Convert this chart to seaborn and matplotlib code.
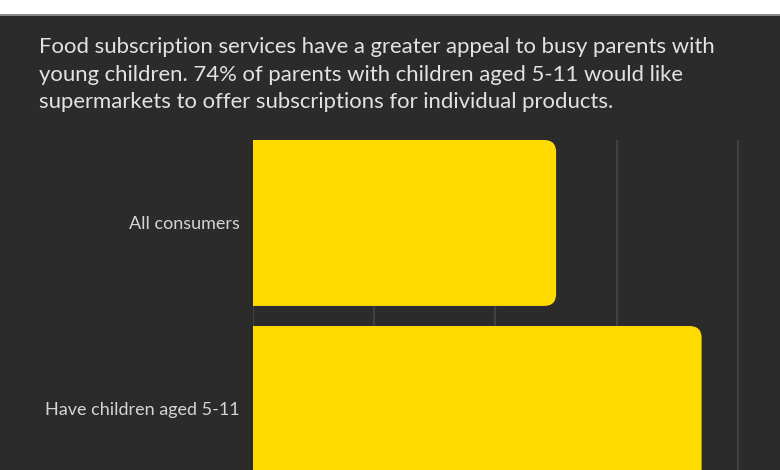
import matplotlib
matplotlib.use("Agg")
import matplotlib.pyplot as plt
from matplotlib.patches import FancyBboxPatch, Rectangle
from matplotlib.lines import Line2D
import seaborn as sns
import pandas as pd

categories = ["All consumers", "Have children aged 5-11"]
values = [50, 74]
x_ticks = [0, 20, 40, 60, 80]
subtitle = ("Food subscription services have a greater appeal to busy parents with\n"
            "young children. 74% of parents with children aged 5-11 would like\n"
            "supermarkets to offer subscriptions for individual products.")

BG = "#2b2b2b"
BAR = "#FFDB00"
GRID = "#404040"

sns.set_theme(style="dark")
plt.rcParams["font.family"] = ["Lato", "DejaVu Sans"]

fig = plt.figure(figsize=(7.8, 4.7), dpi=100, facecolor=BG)

# white band at top and separator line
fig.patches.append(Rectangle((0, 1 - 14 / 470), 1, 14 / 470, transform=fig.transFigure,
                             facecolor="white", edgecolor="none", zorder=0))
fig.lines.append(Line2D([0, 1], [1 - 14.5 / 470] * 2, transform=fig.transFigure,
                        color="#9a9a9a", linewidth=1.2))

fig.text(39 / 780, 1 - 37 / 470, subtitle, color="#e2e2e2", fontsize=15.9,
         ha="left", va="top", linespacing=1.48)

ax = fig.add_axes([253 / 780, 0, 488 / 780, 1 - 140 / 470])
ax.set_facecolor(BG)

df = pd.DataFrame({"category": categories, "value": values})
sns.barplot(data=df, y="category", x="value", orient="h", color=BAR,
            width=0.892, ax=ax, saturation=1)

ax.set_xlim(0, 80.5)
ax.set_ylim(1.328, -0.446)

# replace bars by right-rounded bars
px_per_x = (488) / 80.5
px_per_y = 330 / (1.328 + 0.446)
r_px = 12
r = r_px / px_per_x
aspect = (r_px / px_per_y) / r
bars = list(ax.patches)
for p in bars:
    x0, y0 = p.get_x(), p.get_y()
    w, h = p.get_width(), p.get_height()
    p.remove()
    fb = FancyBboxPatch((x0 - r * 2, y0), w + r * 2, h,
                        boxstyle=f"round,pad=0,rounding_size={r}",
                        mutation_aspect=aspect, facecolor=BAR, edgecolor="none",
                        zorder=2)
    ax.add_patch(fb)

ax.set_xticks(x_ticks)
ax.set_xticklabels([])
ax.tick_params(axis="x", length=0)
ax.tick_params(axis="y", length=0, pad=9.5, labelsize=13, labelcolor="#d4d4d4")
ax.xaxis.grid(True, color=GRID, linewidth=1.6)
ax.yaxis.grid(False)
ax.set_axisbelow(True)
ax.set_xlabel("")
ax.set_ylabel("")
for s in ax.spines.values():
    s.set_visible(False)

fig.savefig("out.png", dpi=100, facecolor=BG)
